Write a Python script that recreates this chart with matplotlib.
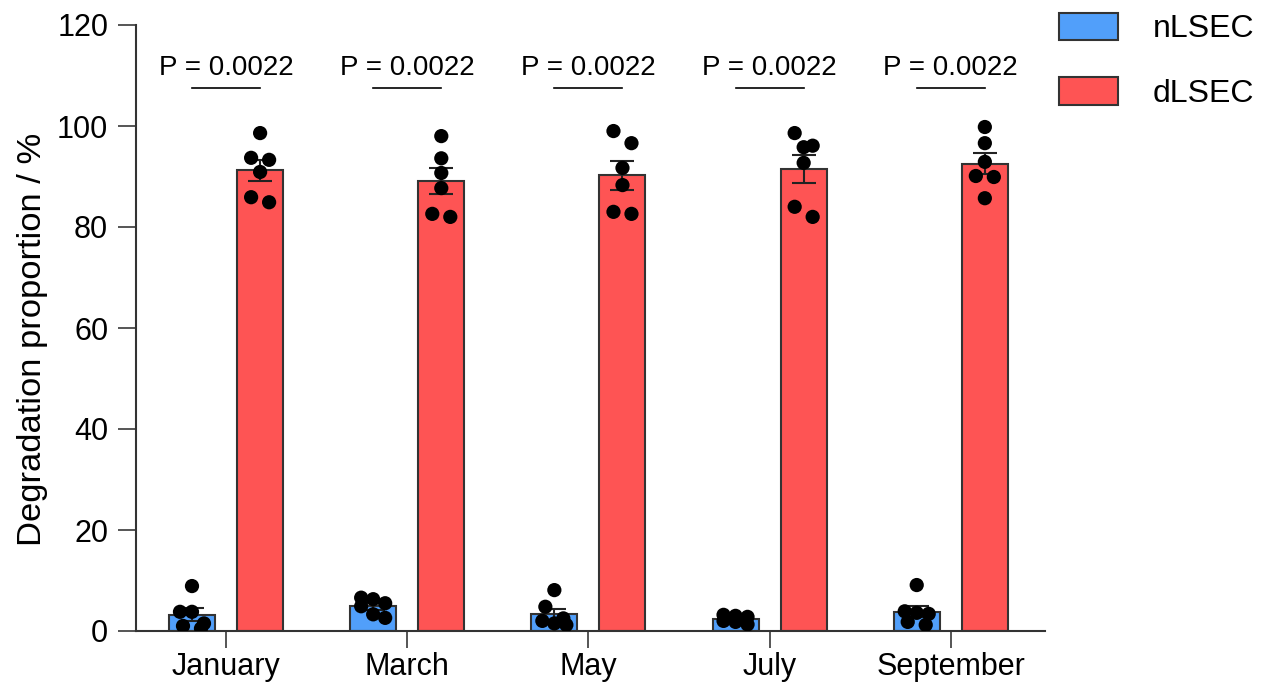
import numpy as np
import matplotlib
matplotlib.use("Agg")
import matplotlib.pyplot as plt
from matplotlib.patches import Patch

plt.rcParams["font.family"] = ["Liberation Sans", "DejaVu Sans"]

# =========================
# data
# =========================
months = ["January", "March", "May", "July", "September"]

nlsec = [
    [8.9, 3.8, 3.8, 1.5, 1.0, 0.5],
    [6.6, 6.3, 5.5, 4.9, 3.3, 2.6],
    [8.1, 4.8, 2.5, 2.0, 1.5, 1.2],
    [3.2, 3.0, 2.8, 2.0, 1.8, 1.3],
    [9.1, 3.9, 3.6, 3.4, 1.8, 1.2],
]

dlsec = [
    [98.6, 93.3, 93.7, 90.9, 85.9, 84.9],
    [98.0, 93.6, 90.7, 87.7, 82.6, 82.0],
    [99.0, 96.6, 91.7, 88.3, 83.0, 82.6],
    [98.6, 95.8, 96.1, 92.7, 84.0, 82.0],
    [99.8, 96.6, 92.9, 90.1, 89.9, 85.7],
]

p_labels = ["P = 0.0022"] * 5

BLUE = "#519ffa"
RED = "#fe5454"
EDGE = "#333333"
TICK = "#555555"

W_PX, H_PX = 1264, 685
fig = plt.figure(figsize=(W_PX / 100, H_PX / 100), dpi=100)
ax = fig.add_axes([136 / W_PX, (H_PX - 631) / H_PX, (1045 - 136) / W_PX, (631 - 25) / H_PX])

XMIN, XMAX = -0.497, 4.52
ax.set_xlim(XMIN, XMAX)
ax.set_ylim(0, 120)

width = 0.254
offset = 0.188
x = np.arange(len(months))

# px per data unit, used for the dot layout
px_x = (1045 - 136) / (XMAX - XMIN)
px_y = (631 - 25) / 120.0
dot_d = 13.5


def swarm_offsets(vals):
    # points close in value share a row, spread evenly about the centre
    order = list(np.argsort(vals)[::-1])
    res = np.zeros(len(vals))
    rows = []
    for i in order:
        if rows and len(rows[-1]) < 3 and (vals[rows[-1][0]] - vals[i]) * px_y < dot_d * 0.95:
            rows[-1].append(i)
        else:
            rows.append([i])
    for row in rows:
        n = len(row)
        if n == 1:
            continue
        step = min(18.0, 24.0 / (n - 1))
        for k, i in enumerate(row):
            res[i] = (k - (n - 1) / 2) * step / px_x
    return res


def draw_group(xc, vals, color):
    vals = np.array(vals)
    m = vals.mean()
    sem = vals.std(ddof=1) / np.sqrt(len(vals))
    ax.bar(xc, m, width, color=color, edgecolor=EDGE, linewidth=1.5, zorder=2)
    ax.errorbar(xc, m, yerr=sem, fmt="none", ecolor="#222222", elinewidth=1.5,
                capsize=8.5, capthick=1.5, zorder=3)
    ax.scatter(xc + swarm_offsets(vals), vals, s=105, color="black",
               edgecolor="none", zorder=4)


for i in range(len(months)):
    draw_group(x[i] - offset, nlsec[i], BLUE)
    draw_group(x[i] + offset, dlsec[i], RED)
    ax.plot([x[i] - offset, x[i] + offset], [107.5, 107.5], color="black", lw=1.2)
    ax.text(x[i], 108.9, p_labels[i], ha="center", va="bottom", fontsize=20)

ax.spines["top"].set_visible(False)
ax.spines["right"].set_visible(False)
for s in ["left", "bottom"]:
    ax.spines[s].set_linewidth(1.5)
    ax.spines[s].set_color(EDGE)

ax.set_xticks(x)
ax.set_xticklabels(months, fontsize=22)
ax.set_yticks(np.arange(0, 121, 20))
ax.tick_params(axis="y", labelsize=22, length=13, width=1.4, color=TICK, pad=7)
ax.tick_params(axis="x", length=12, width=1.4, color=TICK, pad=3)
ax.set_ylabel("Degradation proportion / %", fontsize=24.8)
ax.yaxis.set_label_coords(-0.097, 0.482)

handles = [Patch(facecolor=BLUE, edgecolor=EDGE, linewidth=1.5, label="nLSEC"),
           Patch(facecolor=RED, edgecolor=EDGE, linewidth=1.5, label="dLSEC")]
fig.legend(handles=handles, loc="upper left", bbox_to_anchor=(1046 / W_PX, 1.0),
           frameon=False, fontsize=23, handlelength=1.85, handleheight=0.94,
           handletextpad=1.1, labelspacing=1.03, borderaxespad=0.0)

fig.savefig("out.png", dpi=100)
